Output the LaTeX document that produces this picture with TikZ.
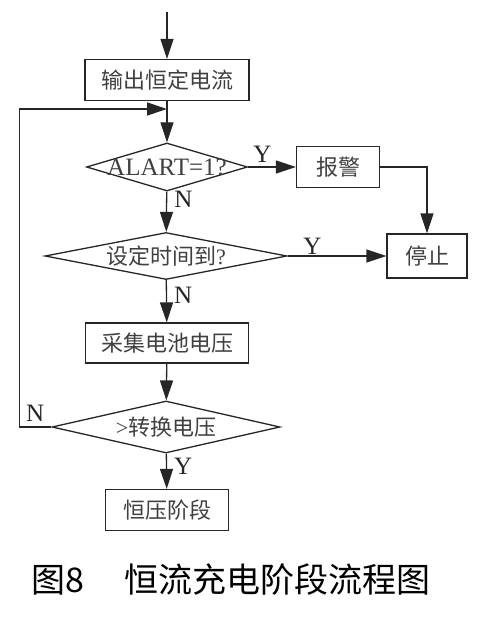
\documentclass[tikz,border=0pt]{standalone}
\usepackage{fontspec}
\setmainfont{Liberation Serif}
\newfontfamily\cjk{Noto Sans CJK SC}
\usetikzlibrary{arrows.meta,shapes.geometric}
\begin{document}
\begin{tikzpicture}[x=1pt,y=-1pt,
  ln/.style={draw=black!85,line width=1.3pt},
  arr/.style={ln,-{Triangle[length=20pt,width=13pt]}},
  boxn/.style={ln,rectangle,inner sep=0pt,text=black!75,font=\cjk\fontsize{22}{26}\selectfont},
  dia/.style={ln,diamond,inner sep=0pt},
  dtext/.style={text=black!75,font=\cjk\fontsize{22}{26}\selectfont},
  yn/.style={text=black!85,font=\fontsize{25}{28}\selectfont,inner sep=1pt}]
\useasboundingbox (0,0) rectangle (481,623);
\fill[white] (0,0) rectangle (481,623);
\coordinate (start) at (167,12);
\coordinate (j) at (167,109);
\node[boxn,minimum width=164pt,minimum height=41pt] (b1) at (167,80) {输出恒定电流};
\node[dia,minimum width=161pt,minimum height=48pt] (d1) at (167,167) {};
\node[text=black!75,font=\fontsize{25}{28}\selectfont] at (d1) {ALART=1?};
\node[boxn,minimum width=83pt,minimum height=41pt] (alarm) at (338,167) {报警};
\node[boxn,minimum width=80pt,minimum height=44pt] (stop) at (427,256) {停止};
\node[dia,minimum width=242pt,minimum height=47pt] (d2) at (166,256) {};
\node[dtext] at (d2) {设定时间到\textrm{?}};
\node[boxn,minimum width=163pt,minimum height=40pt] (b3) at (167,343) {采集电池电压};
\node[dia,minimum width=228pt,minimum height=52pt] (d3) at (166,427) {};
\node[dtext] at (d3) {\textrm{>}转换电压};
\node[boxn,minimum width=123pt,minimum height=41pt] (b4) at (167,510) {恒压阶段};
\node[text=black,font=\cjk\fontsize{34}{38}\selectfont,anchor=west] (cap) at (28,580) {图8\hspace{40pt}恒流充电阶段流程图};

\draw[arr] (start) -- (b1);
\draw[arr] (b1) -- (d1);
\draw[arr] (d1) -- node[yn,above,pos=0.3,yshift=3pt]{Y} (alarm);
\draw[arr] (alarm.east) -| (stop.north);
\draw[arr] (d1) -- node[yn,right,pos=0.2,xshift=6pt]{N} (d2);
\draw[arr] (d2) -- node[yn,above,pos=0.25]{Y} (stop);
\draw[arr] (d2) -- node[yn,right,pos=0.35,xshift=6pt]{N} (b3);
\draw[arr] (b3) -- (d3);
\draw[arr] (d3) -- node[yn,right,pos=0.35,xshift=6pt]{Y} (b4);
\draw[arr] (d3.west) -- ++(-32,0) node[yn,above right,pos=0.9,yshift=4pt,xshift=2pt]{N} |- (j);
\end{tikzpicture}
\end{document}
